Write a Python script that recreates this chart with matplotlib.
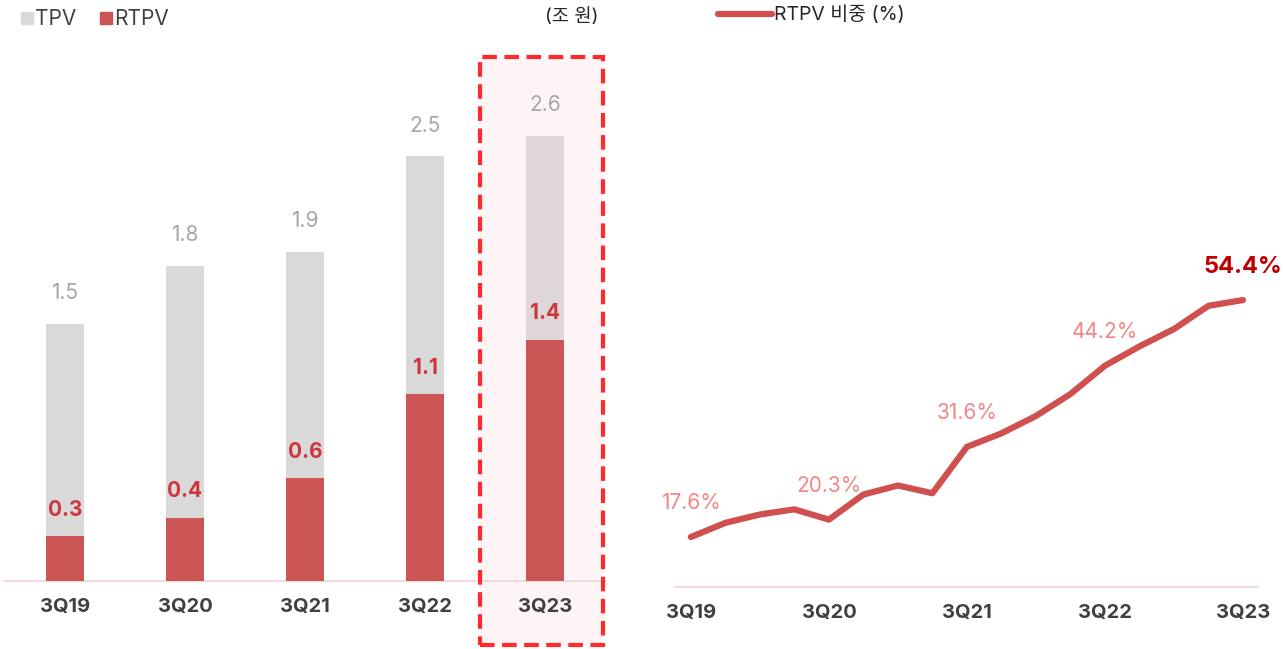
import matplotlib
matplotlib.use("Agg")
import matplotlib.pyplot as plt
import matplotlib.transforms as mtransforms
from matplotlib.patches import Rectangle
from matplotlib.lines import Line2D

plt.rcParams['font.family'] = ['Inter', 'Noto Sans CJK KR', 'DejaVu Sans']

# data
quarters = ['3Q19', '3Q20', '3Q21', '3Q22', '3Q23']
tpv = [1.5, 1.84, 1.92, 2.48, 2.6]        # 조 원
rtpv = [0.26, 0.37, 0.6, 1.09, 1.41]      # 조 원

share_ticks = ['3Q19', '3Q20', '3Q21', '3Q22', '3Q23']
share = [17.6, 19.8, 21.1, 21.9, 20.3, 24.2, 25.6, 24.4, 31.6,
         33.7, 36.4, 39.8, 44.2, 47.2, 49.9, 53.5, 54.4]
share_labeled = [0, 4, 8, 12, 16]

GRAY = '#d9d9d9'
RED = '#cc5555'
LINE_RED = '#d05050'

fig = plt.figure(figsize=(12.87, 6.49), dpi=100)
W, H = 1287, 649

# ---- left: stacked bars
ax1 = fig.add_axes([5 / W, 68 / H, 600 / W, 541 / H])
x = list(range(len(quarters)))
hl = len(quarters) - 1
gray_cols = [GRAY] * len(x)
gray_cols[hl] = '#ded6d8'
ax1.bar(x, tpv, width=0.32, color=gray_cols, zorder=2)
ax1.bar(x, rtpv, width=0.32, color=RED, zorder=3)
for i in x:
    ax1.annotate(f'{tpv[i]:.1f}', (i, tpv[i]), xytext=(0, 15), textcoords='offset points',
                 ha='center', va='bottom', color='#a6a6a6', fontsize=15)
    ax1.annotate(f'{rtpv[i]:.1f}', (i, rtpv[i]), xytext=(0, 12), textcoords='offset points',
                 ha='center', va='bottom', color='#cf353c', fontsize=15, fontweight='bold')

ax1.set_xlim(-0.5, len(x) - 0.5)
ax1.set_ylim(0, 541 / 171.2)
ax1.set_xticks(x)
ax1.set_xticklabels(quarters, fontsize=14.5, fontweight='bold', color='#404040')
ax1.tick_params(axis='x', length=0, pad=12)
ax1.set_yticks([])
for s in ['top', 'right', 'left']:
    ax1.spines[s].set_visible(False)
ax1.spines['bottom'].set_color('#f2d3d3')
ax1.spines['bottom'].set_linewidth(1.2)

# highlight box on latest quarter
trans = mtransforms.blended_transform_factory(ax1.transData, ax1.transAxes)
ax1.add_patch(Rectangle((hl - 0.54, -0.118), 1.02, 1.087, transform=trans,
                        facecolor='#fff4f5', edgecolor='none', zorder=0, clip_on=False))
ax1.add_patch(Rectangle((hl - 0.54, -0.118), 1.02, 1.087, transform=trans,
                        facecolor='none', edgecolor='#ff2a2a', lw=3,
                        linestyle=(0, (3.5, 1.8)), zorder=5, clip_on=False))

# ---- right: RTPV share line
ax2 = fig.add_axes([675 / W, 62 / H, 583 / W, 547 / H])
xs = list(range(len(share)))
ax2.plot(xs, share, color=LINE_RED, lw=4.5, solid_capstyle='round', solid_joinstyle='round')
for i in share_labeled:
    last = i == len(share) - 1
    ax2.annotate(f'{share[i]:.1f}%', (i, share[i]),
                 xytext=(0 if last else 0, 16 if last else 17), textcoords='offset points',
                 ha='center', va='bottom',
                 color='#c00000' if last else '#f48585',
                 fontsize=17 if last else 15,
                 fontweight='bold' if last else 'normal')
ax2.set_xlim(-0.46, len(share) - 1 + 0.435)
ax2.set_ylim(9.84, 9.84 + 547 / 6.44)
ax2.set_xticks(share_labeled)
ax2.set_xticklabels(share_ticks, fontsize=14.5, fontweight='bold', color='#404040')
ax2.tick_params(axis='x', length=0, pad=12)
ax2.set_yticks([])
for s in ['top', 'right', 'left']:
    ax2.spines[s].set_visible(False)
ax2.spines['bottom'].set_color('#f2d3d3')
ax2.spines['bottom'].set_linewidth(1.2)

# ---- legends
h_tpv = Line2D([], [], marker='s', color=GRAY, ls='none', markersize=9)
h_rtpv = Line2D([], [], marker='s', color=RED, ls='none', markersize=9)
fig.legend([h_tpv, h_rtpv], ['TPV', 'RTPV'], loc='upper left',
           bbox_to_anchor=(0.0, 1.015), ncol=2, frameon=False, fontsize=15,
           handlelength=0.8, handletextpad=0.0, columnspacing=1.0,
           labelcolor='#404040')
fig.text(572 / W, 1 - 17 / H, '(조 원)', ha='center', va='center', fontsize=13.5, color='#262626')

h_line = Line2D([], [], color=LINE_RED, lw=4.5, solid_capstyle='round')
fig.legend([h_line], ['RTPV 비중 (%)'], loc='upper left', bbox_to_anchor=(700 / W, 1.018),
           frameon=False, fontsize=14, handlelength=2.8, handletextpad=0.1,
           labelcolor='#262626')

fig.savefig('out.png', dpi=100)
